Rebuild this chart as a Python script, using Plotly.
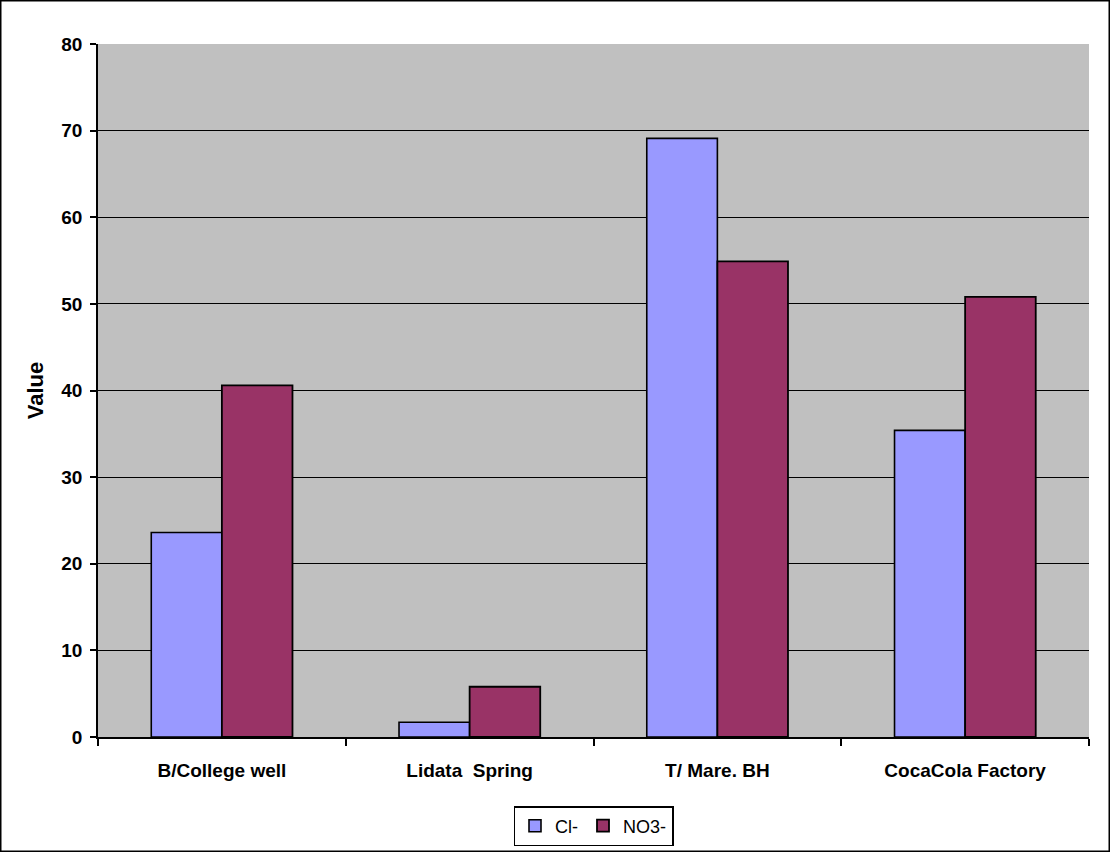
import plotly.graph_objects as go

categories = ["B/College well", "Lidata  Spring", "T/ Mare. BH", "CocaCola Factory"]
cl_values = [23.6, 1.7, 69.1, 35.4]
no3_values = [40.6, 5.8, 54.9, 50.8]
y_ticks = [0, 10, 20, 30, 40, 50, 60, 70, 80]

W, H = 1110, 852
L, R, T, B = 98, 21, 44, 115
pw, ph = W - L - R, H - T - B

fig = go.Figure()
fig.add_trace(go.Bar(name="Cl-", x=categories, y=cl_values,
                     marker=dict(color="#9999FF", line=dict(color="black", width=1.6))))
fig.add_trace(go.Bar(name="NO3-", x=categories, y=no3_values,
                     marker=dict(color="#993366", line=dict(color="black", width=1.8))))

font = "Liberation Sans, Arial, sans-serif"
fig.update_layout(
    width=W, height=H,
    margin=dict(l=L, r=R, t=T, b=B, autoexpand=False),
    paper_bgcolor="white",
    plot_bgcolor="#C0C0C0",
    barmode="group",
    bargap=0.43,
    bargroupgap=0,
    font=dict(family=font, color="black"),
    showlegend=True,
    legend=dict(orientation="h", x=0.5, xanchor="center",
                yref="container", y=1 - 806 / H, yanchor="top",
                bordercolor="black", borderwidth=1.5, bgcolor="white",
                font=dict(size=18, family=font), itemwidth=30, traceorder="normal"),
    xaxis=dict(
        type="category", showline=True, linecolor="black", linewidth=2,
        ticks="outside", tickson="boundaries", ticklen=7, tickwidth=1.5, tickcolor="black",
        tickfont=dict(size=19, family=font, weight="bold"), showgrid=False,
        ticklabelstandoff=15,
    ),
    yaxis=dict(
        range=[0, 80], tickvals=y_ticks, showline=True, linecolor="black", linewidth=1.5,
        ticks="outside", ticklen=6, tickwidth=1.5, tickcolor="black",
        tickfont=dict(size=19, family=font, weight="bold"),
        ticklabelstandoff=4,
        showgrid=True, gridcolor="black", gridwidth=1.2,
        title=dict(text="Value", font=dict(size=22, family=font, weight="bold"), standoff=12),
        zeroline=False,
    ),
)

# outer border around whole figure
fig.add_shape(type="rect", xref="paper", yref="paper",
              x0=(0.75 - L) / pw, x1=(W - 0.75 - L) / pw,
              y0=-(B - 0.75) / ph, y1=(ph + T - 0.75) / ph,
              line=dict(color="black", width=1.5), fillcolor="rgba(0,0,0,0)", layer="above")

fig.write_html("out.html")
